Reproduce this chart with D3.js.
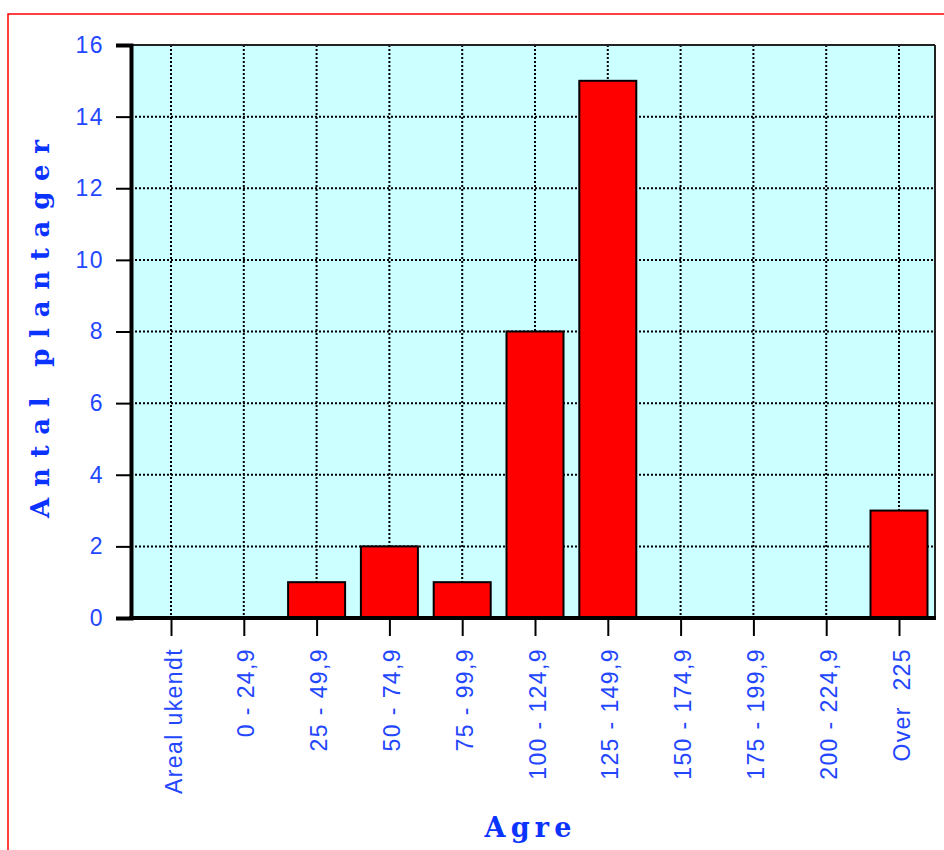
<!DOCTYPE html>
<html>
<head>
<meta charset="utf-8">
<script src="https://cdn.jsdelivr.net/npm/d3@7"></script>
<style>
  html, body { margin: 0; padding: 0; background: #fff; }
  svg { display: block; }
</style>
</head>
<body>
<svg id="chart" width="944" height="850"></svg>
<script>
const categories = ["Areal ukendt", "0 - 24,9", "25 - 49,9", "50 - 74,9", "75 - 99,9",
  "100 - 124,9", "125 - 149,9", "150 - 174,9", "175 - 199,9", "200 - 224,9", "Over  225"];
const values = [0, 0, 1, 2, 1, 8, 15, 0, 0, 0, 3];
const yTicks = [0, 2, 4, 6, 8, 10, 12, 14, 16];
const yTitle = "Antal plantager";
const xTitle = "Agre";

const svg = d3.select("#chart");
const L = 131, R = 935, T = 45, B = 618;

const x = d3.scalePoint().domain(categories).range([171, 899]);
const y = d3.scaleLinear().domain([0, 16]).range([B, T]);
const barW = 57;

// outer red frame
svg.append("rect").attr("x", 8).attr("y", 14).attr("width", 1000).attr("height", 1000)
  .attr("fill", "none").attr("stroke", "#ff0000").attr("stroke-width", 1.5);

// plot background
svg.append("rect").attr("x", L).attr("y", T).attr("width", R - L).attr("height", B - T)
  .attr("fill", "#ccffff");

// grid
const grid = svg.append("g").attr("stroke", "#000").attr("stroke-width", 2)
  .attr("stroke-dasharray", "2,2");
grid.selectAll("line.h").data(yTicks.filter(d => d > 0 && d < 16)).join("line")
  .attr("x1", L).attr("x2", R).attr("y1", d => y(d)).attr("y2", d => y(d));
grid.selectAll("line.v").data(categories).join("line")
  .attr("x1", d => x(d)).attr("x2", d => x(d)).attr("y1", T).attr("y2", B);

// bars
svg.append("g").selectAll("rect").data(categories.map((c, i) => ({c, v: values[i]})).filter(d => d.v > 0))
  .join("rect")
  .attr("x", d => x(d.c) - barW / 2)
  .attr("y", d => y(d.v))
  .attr("width", barW)
  .attr("height", d => y(0) - y(d.v))
  .attr("fill", "#ff0000")
  .attr("stroke", "#000")
  .attr("stroke-width", 2);

// top and right frame (thin)
svg.append("line").attr("x1", L).attr("x2", R).attr("y1", T).attr("y2", T)
  .attr("stroke", "#222").attr("stroke-width", 2);
svg.append("line").attr("x1", R).attr("x2", R).attr("y1", T).attr("y2", B)
  .attr("stroke", "#222").attr("stroke-width", 2);

// y axis
const yAxis = svg.append("g").attr("transform", `translate(${L},0)`)
  .call(d3.axisLeft(y).tickValues(yTicks).tickSize(15).tickPadding(12).tickFormat(d3.format("d")));
yAxis.select(".domain").attr("stroke", "#000").attr("stroke-width", 4);
yAxis.selectAll(".tick line").attr("stroke", "#000").attr("stroke-width", 2);
yAxis.selectAll(".tick text").attr("fill", "#2347ff").attr("font-family", "Liberation Sans, Arial, sans-serif")
  .attr("font-size", 23).attr("letter-spacing", 1.5);

// x axis
const xAxis = svg.append("g").attr("transform", `translate(0,${B})`)
  .call(d3.axisBottom(x).tickSize(18).tickPadding(0));
xAxis.select(".domain").attr("stroke", "#000").attr("stroke-width", 4)
  .attr("d", `M${L - 2},0H${R + 1}`);
xAxis.selectAll(".tick line").attr("stroke", "#000").attr("stroke-width", 2);
xAxis.selectAll(".tick text")
  .attr("fill", "#2347ff")
  .attr("font-family", "Liberation Sans, Arial, sans-serif")
  .attr("font-size", 23)
  .attr("letter-spacing", 1.4)
  .attr("text-anchor", "end")
  .attr("dominant-baseline", "central")
  .attr("dy", null)
  .attr("y", 0)
  .style("white-space", "pre")
  .attr("transform", "translate(2,30) rotate(-90)");

// y title
svg.append("text")
  .attr("transform", "translate(40,329) rotate(-90)")
  .attr("text-anchor", "middle")
  .attr("dominant-baseline", "central")
  .attr("fill", "#0b33ff")
  .attr("font-family", "DejaVu Serif, serif")
  .attr("font-weight", "bold")
  .attr("font-size", 26)
  .attr("textLength", 378)
  .attr("lengthAdjust", "spacing")
  .text(yTitle);

// x title
svg.append("text")
  .attr("x", 528).attr("y", 837)
  .attr("text-anchor", "middle")
  .attr("fill", "#0b33ff")
  .attr("font-family", "DejaVu Serif, serif")
  .attr("font-weight", "bold")
  .attr("font-size", 27)
  .attr("textLength", 87)
  .attr("lengthAdjust", "spacing")
  .text(xTitle);
</script>
</body>
</html>
